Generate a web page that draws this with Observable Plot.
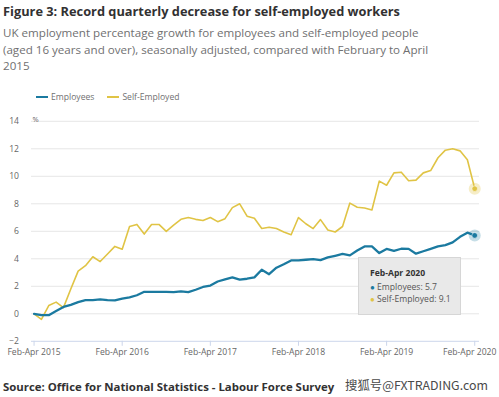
<!DOCTYPE html>
<html><head><meta charset="utf-8">
<script src="https://cdn.jsdelivr.net/npm/d3@7"></script>
<script src="https://cdn.jsdelivr.net/npm/@observablehq/plot@0.6"></script>
<style>
body{margin:0;background:#fff;font-family:"Open Sans",sans-serif;width:499px;height:397px;position:relative;overflow:hidden}
#title{position:absolute;left:3px;top:3px;font-weight:bold;font-size:12.8px;color:#323132;white-space:nowrap;line-height:16px}
#sub{position:absolute;left:3px;top:25px;font-size:11.6px;line-height:16.7px;color:#707071;white-space:nowrap}
#legend{position:absolute;left:36px;top:91px;font-size:8.6px;color:#707071;white-space:nowrap;line-height:12px}
#legend span.item{display:inline-block;margin-right:13px}
#legend span.sw{display:inline-block;width:12px;height:2px;vertical-align:middle;margin-right:3px;position:relative;top:-1px}
#chart{position:absolute;left:0;top:108px}
#tip{position:absolute;left:358px;top:257px;width:103px;height:58px;background:#e9e9e9;border:1px solid #d6d6d6;box-sizing:border-box;font-size:8.6px;color:#555;padding:10px 0 0 11px;line-height:11px}
#tip b{color:#333;display:block;margin-bottom:2px}
#tip .d{font-size:8px}
#source{position:absolute;left:3px;top:379px;font-weight:bold;font-size:11.4px;color:#323132;white-space:nowrap}
#wm{position:absolute;left:345px;top:376px;font-size:12.4px;color:#4a4a4a;white-space:nowrap;font-family:"Noto Sans CJK SC","DejaVu Sans",sans-serif;text-shadow:0 0 2px #fff}
</style></head>
<body>
<div id="title">Figure 3: Record quarterly decrease for self-employed workers</div>
<div id="sub">UK employment percentage growth for employees and self-employed people<br>(aged 16 years and over), seasonally adjusted, compared with February to April<br>2015</div>
<div id="legend"></div>
<div id="chart"></div>
<div id="tip"></div>
<div id="source">Source: Office for National Statistics - Labour Force Survey</div>
<div id="wm">搜狐号@FXTRADING.com</div>
<script>
const seriesNames = ["Employees", "Self-Employed"];
const seriesColors = ["#1b7aa0", "#e0c445"];
const employees = [0.0,-0.1,-0.1,0.2,0.5,0.65,0.85,1.0,1.0,1.05,1.0,0.97,1.1,1.2,1.35,1.6,1.6,1.6,1.6,1.57,1.63,1.57,1.75,1.95,2.05,2.35,2.5,2.65,2.48,2.55,2.65,3.2,2.88,3.35,3.6,3.88,3.88,3.93,3.97,3.9,4.1,4.22,4.35,4.25,4.6,4.9,4.9,4.42,4.72,4.57,4.73,4.72,4.37,4.55,4.72,4.9,5.0,5.2,5.6,5.9,5.7];
const selfEmployed = [0.0,-0.4,0.6,0.85,0.45,1.8,3.1,3.5,4.15,3.8,4.35,4.9,4.7,6.35,6.5,5.8,6.5,6.5,6.0,6.45,6.87,7.0,6.87,6.78,7.0,6.7,6.92,7.72,8.0,7.1,6.95,6.2,6.3,6.2,5.95,5.75,7.0,6.55,6.2,6.85,6.1,5.95,6.35,8.05,7.75,7.7,7.55,9.65,9.35,10.25,10.3,9.68,9.72,10.25,10.42,11.35,11.9,12.0,11.85,11.2,9.1];
const tickYears = [2015, 2016, 2017, 2018, 2019, 2020];
const tickLabels = tickYears.map(y => "Feb-Apr " + y);
const yTicks = [-2, 0, 2, 4, 6, 8, 10, 12, 14];
const tooltipTitle = "Feb-Apr 2020";
const tooltipValues = [5.7, 9.1];

const xTickIdx = tickYears.map((y, k) => k * 12);
const lastTick = xTickIdx[xTickIdx.length - 1];
const empData = employees.map((v, i) => ({i, v}));
const selfData = selfEmployed.map((v, i) => ({i, v}));
const lastEmp = [empData[empData.length - 1]];
const lastSelf = [selfData[selfData.length - 1]];

document.getElementById("legend").innerHTML = seriesNames.map((n, k) =>
  `<span class="item"><span class="sw" style="background:${seriesColors[k]}"></span>${n}</span>`).join("");
document.getElementById("tip").innerHTML = `<b>${tooltipTitle}</b>` + seriesNames.map((n, k) =>
  `<div><span class="d" style="color:${seriesColors[k]}">●</span> ${n}: ${tooltipValues[k]}</div>`).join("");

const fmt = d => tickLabels[d / 12];
const chart = Plot.plot({
  width: 499,
  height: 257,
  marginLeft: 31,
  marginRight: 20,
  marginTop: 12.8,
  marginBottom: 24.2,
  style: {fontFamily: "Open Sans", fontSize: "8.6px", background: "transparent"},
  x: {domain: [-0.35, 60.65], label: null},
  y: {domain: [-2, 14], label: null},
  marks: [
    Plot.ruleY(yTicks.filter(d => d > -2), {stroke: "#e6e6e6", strokeWidth: 1}),
    Plot.ruleY([-2], {stroke: "#ccd6eb", strokeWidth: 1}),
    Plot.axisX({ticks: xTickIdx.slice(0, -1), tickFormat: fmt, tickSize: 5, tickPadding: 2.5, stroke: "#ccd6eb", fill: "#666", fontSize: 8.6, label: null}),
    Plot.axisX({ticks: [lastTick], tickFormat: () => "", tickSize: 5, stroke: "#ccd6eb", label: null}),
    Plot.axisX({ticks: [lastTick], tickFormat: fmt, tickSize: 0, tickPadding: 7.5, dx: -5, fill: "#666", fontSize: 8.6, label: null}),
    Plot.axisY({ticks: yTicks, tickSize: 0, tickPadding: 12.5, fill: "#666", fontSize: 8.6, label: null}),
    Plot.text(["%"], {frameAnchor: "top-left", dy: -5, dx: 1, textAnchor: "start", fill: "#666", fontSize: 7.5}),
    Plot.line(selfData, {x: "i", y: "v", stroke: seriesColors[1], strokeWidth: 1.6}),
    Plot.line(empData, {x: "i", y: "v", stroke: seriesColors[0], strokeWidth: 2.3}),
    Plot.dot(lastEmp, {x: "i", y: "v", r: 6, fill: seriesColors[0], fillOpacity: 0.25}),
    Plot.dot(lastEmp, {x: "i", y: "v", r: 2.8, fill: seriesColors[0], stroke: "#fff", strokeWidth: 0.5}),
    Plot.dot(lastSelf, {x: "i", y: "v", r: 6, fill: seriesColors[1], fillOpacity: 0.3}),
    Plot.dot(lastSelf, {x: "i", y: "v", r: 2.8, fill: seriesColors[1], stroke: "#fff", strokeWidth: 0.5})
  ]
});
document.getElementById("chart").appendChild(chart);
</script>
</body></html>
